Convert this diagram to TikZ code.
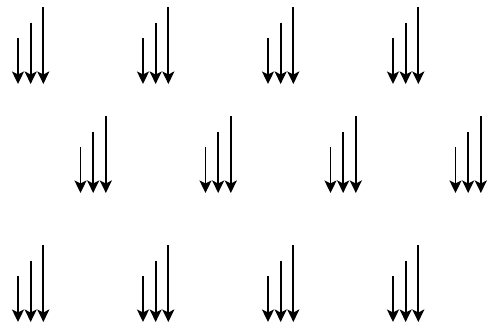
\documentclass[tikz,border=0pt]{standalone}
\usetikzlibrary{arrows.meta}

\tikzset{
  vec/.style={-{Stealth[length=12.5pt, width=12pt, inset=3pt]}, line width=1.9pt},
  trio/.pic={
    \coordinate (-s1) at (0,-46);     \coordinate (-e1) at (0,0);
    \coordinate (-s2) at (12.67,-61.5); \coordinate (-e2) at (12.67,0);
    \coordinate (-s3) at (25.33,-77);   \coordinate (-e3) at (25.33,0);
    \draw[vec] (-s1) -- (-e1);
    \draw[vec] (-s2) -- (-e2);
    \draw[vec] (-s3) -- (-e3);
  }
}

\begin{document}
\begin{tikzpicture}[x=1pt, y=-1pt]
            \useasboundingbox (0,0) rectangle (487,325);
            % top row
            \pic (r1a) at (18,84)  {trio};
            \pic (r1b) at (143,84) {trio};
            \pic (r1c) at (268,84) {trio};
            \pic (r1d) at (393,84) {trio};
            % middle row, shifted half a step
            \pic (r2a) at (80.5,193)  {trio};
            \pic (r2b) at (205.5,193) {trio};
            \pic (r2c) at (330.5,193) {trio};
            \pic (r2d) at (455.5,193) {trio};
            % bottom row
            \pic (r3a) at (18,322)  {trio};
            \pic (r3b) at (143,322) {trio};
            \pic (r3c) at (268,322) {trio};
            \pic (r3d) at (393,322) {trio};
        \end{tikzpicture}
\end{document}
